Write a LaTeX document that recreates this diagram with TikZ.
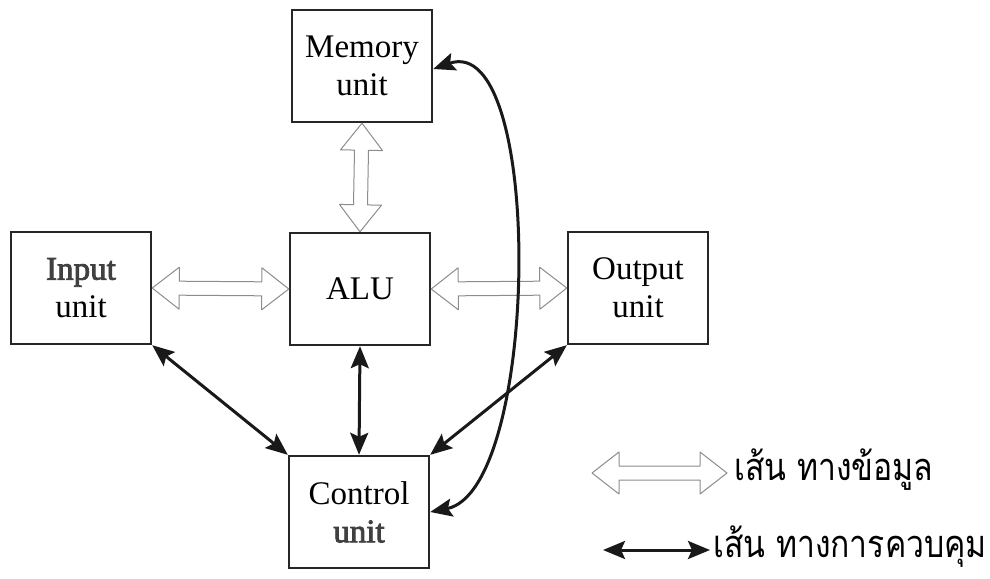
\documentclass[tikz,border=0pt]{standalone}
\usepackage{fontspec}
\setmainfont{Liberation Serif}
\newfontfamily\heavyserif[FakeBold=2.5]{Liberation Serif}
\newfontfamily\thaifont[Script=Thai]{Loma}
\usetikzlibrary{calc,arrows.meta}

% dimensions of the hollow (data) arrows
\newcommand\hlen{27pt}
\newcommand\hhalf{21pt}
\newcommand\shalf{7pt}
% hollow double-headed block arrow from #1 to #2
\newcommand\dataarrow[2]{%
  \draw[datapath] (#1)
    -- ($(#1)!\hlen!(#2)!\hhalf!90:(#2)$)
    -- ($(#1)!\hlen!(#2)!\shalf!90:(#2)$)
    -- ($(#2)!\hlen!(#1)!\shalf!-90:(#1)$)
    -- ($(#2)!\hlen!(#1)!\hhalf!-90:(#1)$)
    -- (#2)
    -- ($(#2)!\hlen!(#1)!\hhalf!90:(#1)$)
    -- ($(#2)!\hlen!(#1)!\shalf!90:(#1)$)
    -- ($(#1)!\hlen!(#2)!\shalf!-90:(#2)$)
    -- ($(#1)!\hlen!(#2)!\hhalf!-90:(#2)$)
    -- cycle;}

\begin{document}
\begin{tikzpicture}[x=1pt,y=-1pt,
  unitbox/.style={draw=black!85,line width=2.4pt,minimum width=140pt,minimum height=112pt,
    align=center,font=\fontsize{33}{38}\selectfont,inner sep=0pt},
  datapath/.style={draw=black!45,line width=1pt,fill=white,line join=round},
  ctrlpath/.style={line width=3pt,black!90,
    {Stealth[length=22pt,width=18pt,inset=4pt]}-{Stealth[length=22pt,width=18pt,inset=4pt]}},
  legendtext/.style={anchor=west,inner sep=0pt,xscale=0.84,
    font=\thaifont\fontsize{38}{44}\selectfont}]

\useasboundingbox (0,0) rectangle (990,578);

% functional units
\node[unitbox] (mem) at (362,66)  {Memory\\unit};
\node[unitbox] (inp) at (81,288)  {{\heavyserif\color{black!75}Input}\\unit};
\node[unitbox] (alu) at (360,289) {ALU};
\node[unitbox] (out) at (638,288) {Output\\unit};
\node[unitbox] (ctl) at (359,512) {Control\\{\heavyserif\color{black!75}unit}};

% data paths
\dataarrow{mem.south}{alu.north}
\dataarrow{inp.east}{alu.west}
\dataarrow{alu.east}{out.west}

% control paths
\draw[ctrlpath] (inp.south east) -- (ctl.north west);
\draw[ctrlpath] (alu.south) -- (ctl.north);
\draw[ctrlpath] (out.south west) -- (ctl.north east);
\draw[ctrlpath] ([yshift=-3pt]mem.east) .. controls (545,30) and (540,490) .. (ctl.east);

% legend
\coordinate (d1) at (592,473);
\coordinate (d2) at (727,473);
\dataarrow{d1}{d2}
\node[legendtext] (dtext) at (734,470) {เส้น ทางข้อมูล};

\coordinate (c1) at (603,550);
\coordinate (c2) at (710,550);
\draw[ctrlpath] (c1) -- (c2);
\node[legendtext] (ctext) at (713,547) {เส้น ทางการควบคุม};
\end{tikzpicture}
\end{document}
